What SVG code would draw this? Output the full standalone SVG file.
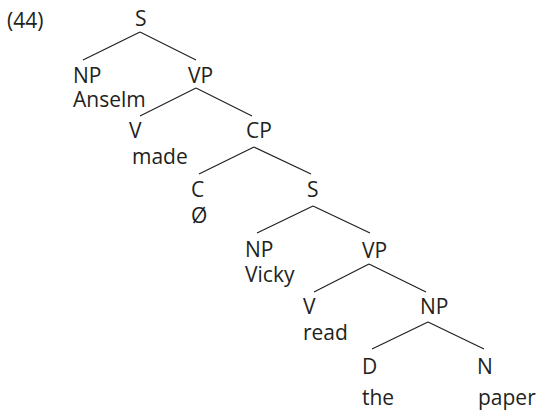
<svg xmlns="http://www.w3.org/2000/svg" width="537" height="413" viewBox="0 0 537 413">
<style>
text { font-family: "Open Sans", "Liberation Sans", sans-serif; font-size: 21px; fill: #231f20; }
.edge { stroke: #231f20; stroke-width: 1.2; fill: none; }
</style>
<rect width="537" height="413" fill="#ffffff"/>
<text id="label44" x="7" y="28">(44)</text>
<g id="connectors">
<line class="edge" x1="140" y1="32" x2="83" y2="60"/>
<line class="edge" x1="140" y1="32" x2="196" y2="60"/>
<line class="edge" x1="196" y1="88" x2="140" y2="116"/>
<line class="edge" x1="196" y1="88" x2="252" y2="116"/>
<line class="edge" x1="254" y1="147" x2="199" y2="174"/>
<line class="edge" x1="254" y1="147" x2="311" y2="174"/>
<line class="edge" x1="313" y1="206" x2="257" y2="233"/>
<line class="edge" x1="313" y1="206" x2="370" y2="233"/>
<line class="edge" x1="369" y1="264" x2="314" y2="292"/>
<line class="edge" x1="369" y1="264" x2="426" y2="292"/>
<line class="edge" x1="428" y1="322" x2="372" y2="349"/>
<line class="edge" x1="428" y1="322" x2="484" y2="349"/>
</g>
<g id="S1"><text x="135" y="26">S</text></g>
<g id="NP1"><text x="73" y="83">NP</text><text x="73" y="107">Anselm</text></g>
<g id="VP1"><text x="188" y="83">VP</text></g>
<g id="V1"><text x="129" y="138">V</text><text x="132" y="164">made</text></g>
<g id="CP"><text x="246" y="138">CP</text></g>
<g id="C"><text x="191" y="197">C</text><text x="191" y="223">Ø</text></g>
<g id="S2"><text x="307" y="197">S</text></g>
<g id="NP2"><text x="245" y="257">NP</text><text x="245" y="282">Vicky</text></g>
<g id="VP2"><text x="362" y="258">VP</text></g>
<g id="V2"><text x="303" y="314">V</text><text x="303" y="340">read</text></g>
<g id="NP3"><text x="420" y="314">NP</text></g>
<g id="D"><text x="362" y="374">D</text><text x="362" y="405">the</text></g>
<g id="N"><text x="477" y="374">N</text><text x="478" y="405">paper</text></g>
</svg>
